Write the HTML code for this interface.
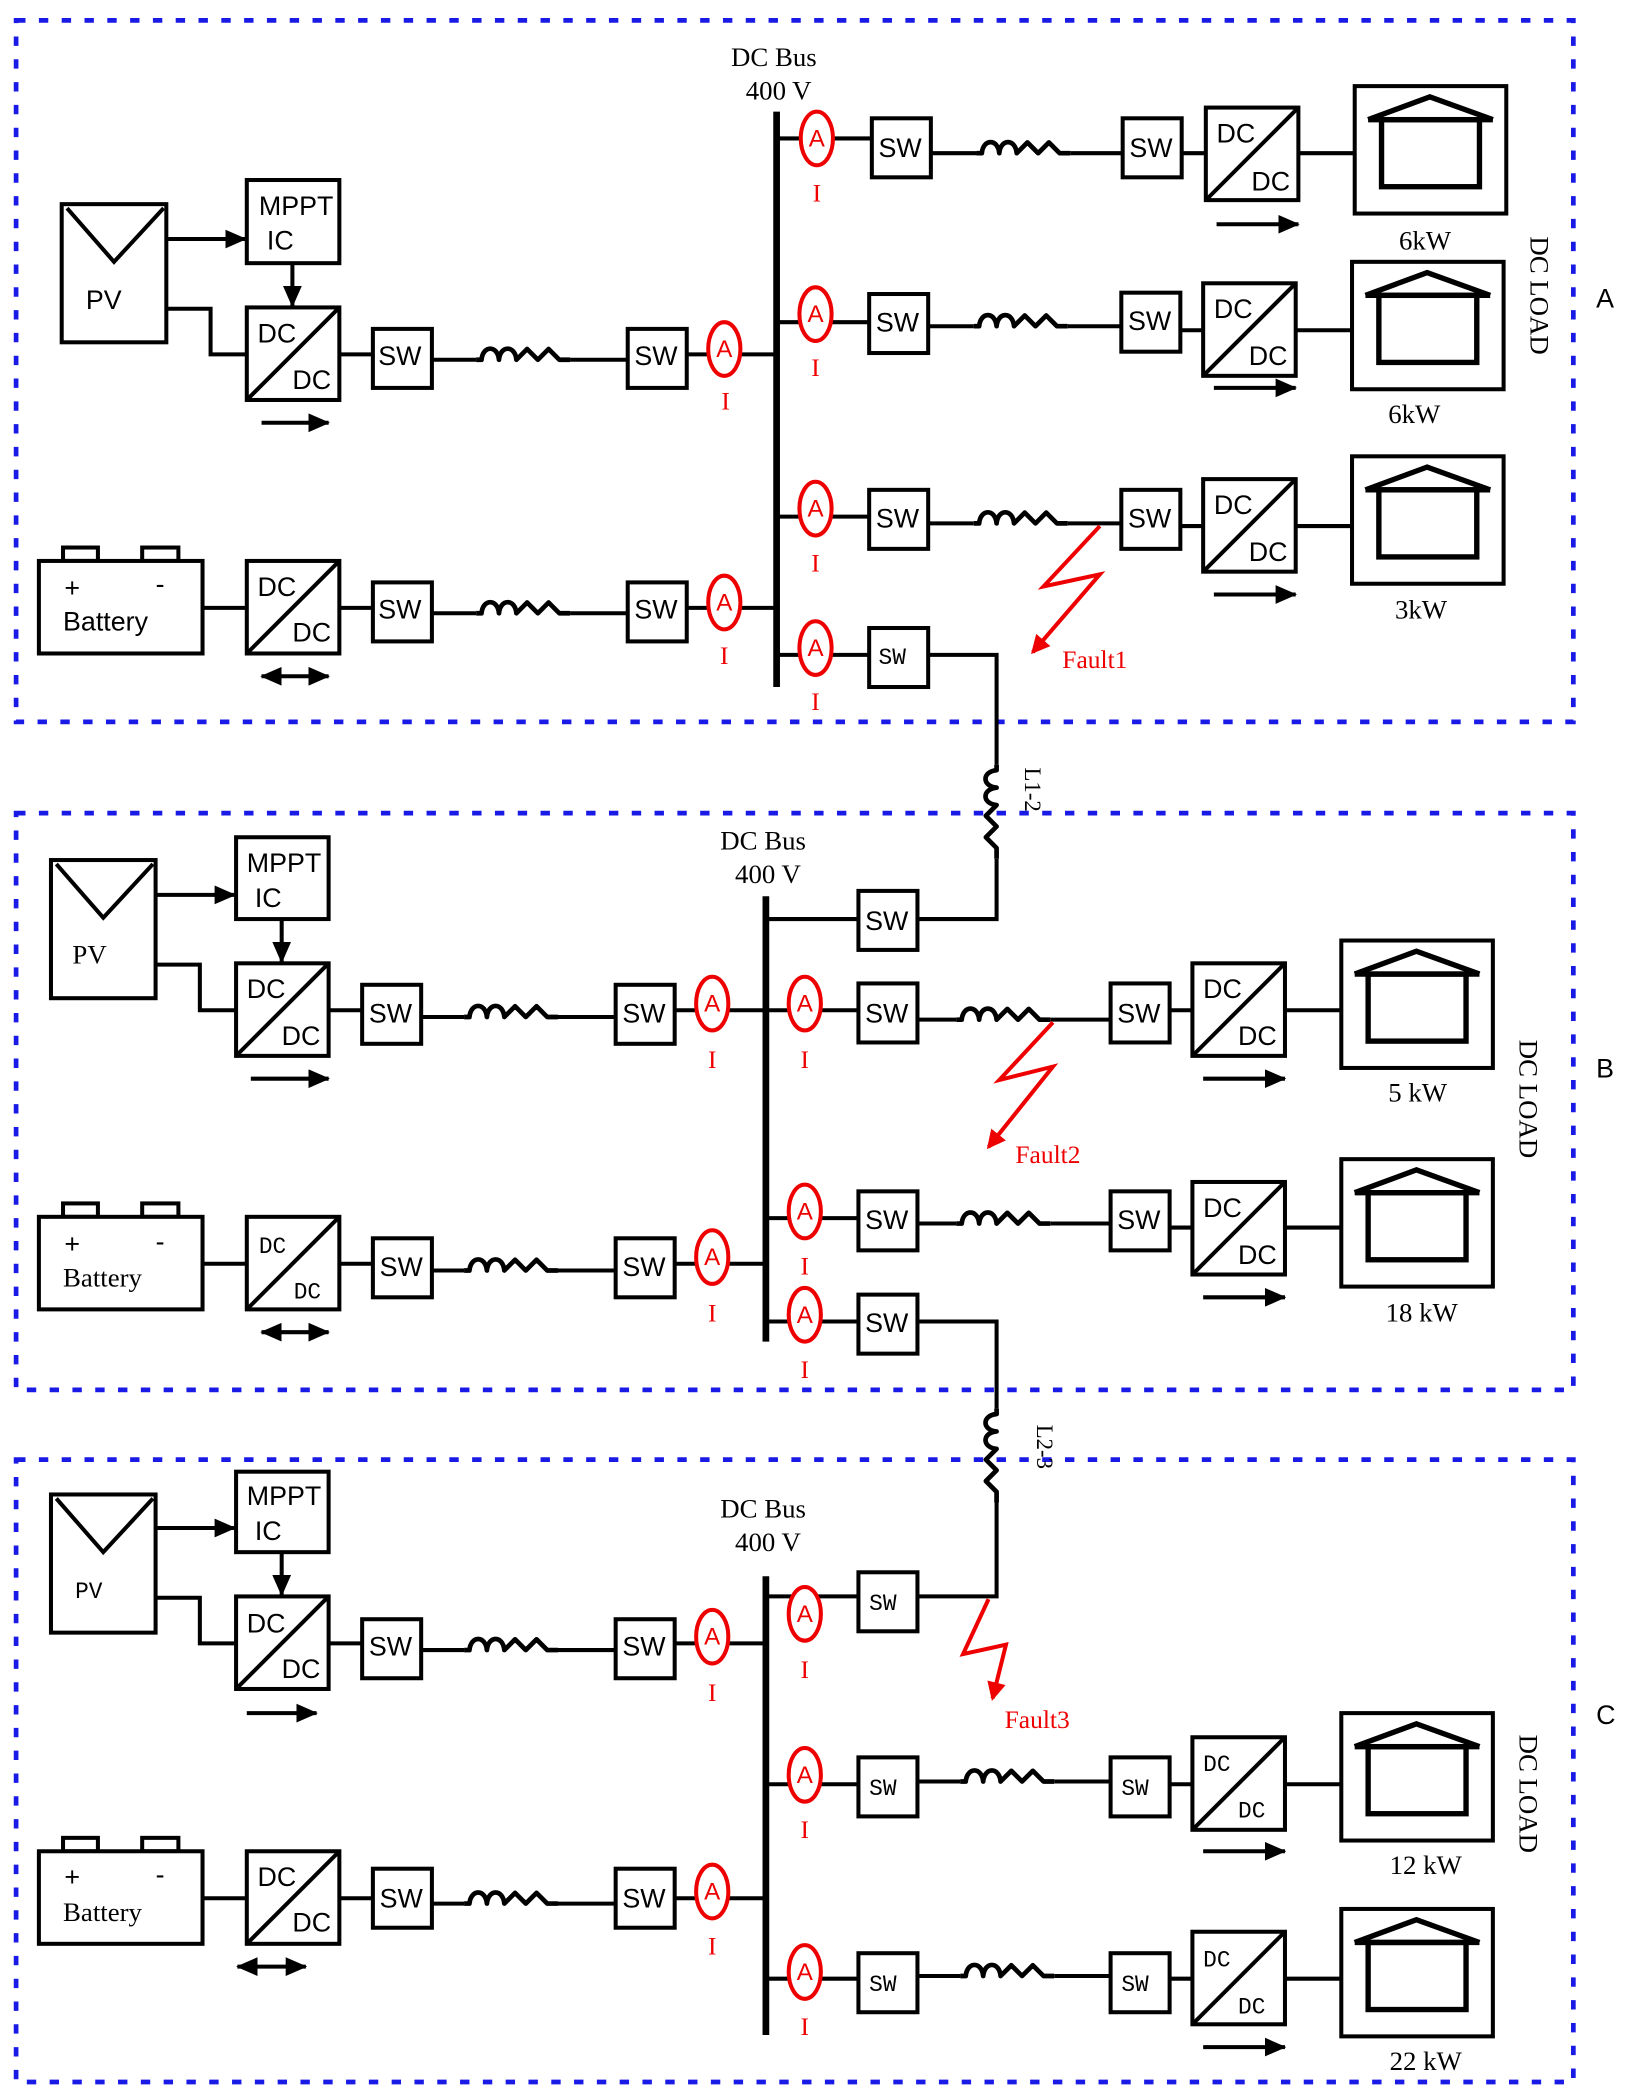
<!DOCTYPE html>
<html><head><meta charset="utf-8"><style>
html,body{margin:0;padding:0;background:#fff}
svg{display:block}
.t{font-family:"Liberation Sans",sans-serif;font-size:20px;fill:#000}
.s{font-family:"Liberation Serif",serif;font-size:20px;fill:#000}
.r{font-family:"Liberation Serif",serif;font-size:19px;fill:#e00}
.a{font-family:"Liberation Sans",sans-serif;font-size:18px;fill:#e00;text-anchor:middle}
</style></head><body>
<svg width="1627" height="2097" viewBox="0 0 1213 1563" xmlns="http://www.w3.org/2000/svg">
<defs>
<marker id="ah" markerWidth="16" markerHeight="14" refX="15" refY="7" orient="auto" markerUnits="userSpaceOnUse"><path d="M0,0 L16,7 L0,14z" fill="#000"/></marker>
<marker id="ah2" markerWidth="16" markerHeight="14" refX="1" refY="7" orient="auto" markerUnits="userSpaceOnUse"><path d="M16,0 L0,7 L16,14z" fill="#000"/></marker>
<marker id="rh" markerWidth="14" markerHeight="14" refX="12" refY="7" orient="auto" markerUnits="userSpaceOnUse"><path d="M0,0 L14,7 L0,14z" fill="#e00"/></marker>
<g id="ind"><path d="M0,0 L4,0 C5,-11 16,-11 17,0 C18,-11 29,-11 30,0 L38,-8 L46,0 L54,-8 L62,0 L70,0" fill="none" stroke="#000" stroke-width="3.5" stroke-linejoin="round"/></g>
<g id="indv"><g transform="rotate(90)"><path d="M0,0 L4,0 C5,11 16,11 17,0 C18,11 29,11 30,0 L38,8 L46,0 L54,8 L62,0 L70,0" fill="none" stroke="#000" stroke-width="3.5" stroke-linejoin="round"/></g></g>
<g id="house"><rect x="0" y="0" width="113" height="95" fill="#fff" stroke="#000" stroke-width="3"/><polyline points="10,25 56,8 103,25" fill="none" stroke="#000" stroke-width="4"/><line x1="10" y1="25" x2="103" y2="25" stroke="#000" stroke-width="4"/><rect x="20" y="25" width="73" height="50" fill="none" stroke="#000" stroke-width="4"/></g>
<g id="sw"><rect x="0" y="0" width="44" height="44" fill="#fff" stroke="#000" stroke-width="3"/></g>
<g id="dcdc"><rect x="0" y="0" width="69" height="69" fill="#fff" stroke="#000" stroke-width="3"/><line x1="0" y1="69" x2="69" y2="0" stroke="#000" stroke-width="3"/></g>
<g id="amm"><ellipse cx="0" cy="0" rx="12" ry="20" fill="#fff" stroke="#e00" stroke-width="3"/></g>
<g id="pv"><rect x="0" y="0" width="78" height="103" fill="#fff" stroke="#000" stroke-width="3"/><polyline points="4,3 39,43 76,3" fill="none" stroke="#000" stroke-width="3"/></g>
<g id="bat"><rect x="18" y="-10" width="26" height="10" fill="#fff" stroke="#000" stroke-width="3"/><rect x="77" y="-10" width="27" height="10" fill="#fff" stroke="#000" stroke-width="3"/><rect x="0" y="0" width="122" height="69" fill="#fff" stroke="#000" stroke-width="3"/></g>
</defs>
<g fill="none" stroke="#1a1ae6" stroke-width="3.5" stroke-dasharray="7,10">
<rect x="12" y="15" width="1161" height="523"/>
<rect x="12" y="606" width="1161" height="430"/>
<rect x="12" y="1088" width="1161" height="464"/>
</g>
<g stroke="#000" stroke-width="3" fill="none">
<line x1="579" y1="83" x2="579" y2="512" stroke-width="5"/>
<line x1="124" y1="178" x2="183" y2="178" marker-end="url(#ah)"/>
<line x1="218" y1="196" x2="218" y2="228" marker-end="url(#ah)"/>
<polyline points="124,230 157,230 157,264 184,264"/>
<line x1="253" y1="264" x2="278" y2="264"/>
<line x1="322" y1="268" x2="355" y2="268"/><line x1="425" y1="268" x2="468" y2="268"/>
<line x1="512" y1="264" x2="579" y2="264"/>
<line x1="195" y1="315" x2="245" y2="315" marker-end="url(#ah)"/>
<line x1="151" y1="453" x2="184" y2="453"/><line x1="253" y1="453" x2="278" y2="453"/>
<line x1="322" y1="457" x2="355" y2="457"/><line x1="425" y1="457" x2="468" y2="457"/>
<line x1="512" y1="453" x2="579" y2="453"/>
<line x1="195" y1="504" x2="245" y2="504" marker-end="url(#ah)" marker-start="url(#ah2)"/>
<line x1="579" y1="103" x2="650" y2="103"/><line x1="694" y1="114" x2="728" y2="114"/><line x1="798" y1="114" x2="837" y2="114"/><line x1="882" y1="114" x2="899" y2="114"/><line x1="968" y1="114" x2="1010" y2="114"/>
<line x1="907" y1="167" x2="968" y2="167" marker-end="url(#ah)"/>
<line x1="579" y1="240" x2="648" y2="240"/><line x1="692" y1="243" x2="726" y2="243"/><line x1="796" y1="243" x2="836" y2="243"/><line x1="880" y1="246" x2="897" y2="246"/><line x1="967" y1="246" x2="1008" y2="246"/>
<line x1="905" y1="289" x2="966" y2="289" marker-end="url(#ah)"/>
<line x1="579" y1="385" x2="648" y2="385"/><line x1="692" y1="390" x2="726" y2="390"/><line x1="796" y1="390" x2="836" y2="390"/><line x1="880" y1="392" x2="897" y2="392"/><line x1="967" y1="392" x2="1008" y2="392"/>
<line x1="905" y1="443" x2="966" y2="443" marker-end="url(#ah)"/>
<line x1="579" y1="488" x2="648" y2="488"/><polyline points="692,488 743,488 743,570"/><polyline points="743,640 743,685 684,685"/>
<line x1="571" y1="668" x2="571" y2="1000" stroke-width="5"/>
<line x1="571" y1="685" x2="640" y2="685"/>
<line x1="116" y1="667" x2="175" y2="667" marker-end="url(#ah)"/>
<line x1="210" y1="685" x2="210" y2="717" marker-end="url(#ah)"/>
<polyline points="116,719 149,719 149,753 176,753"/>
<line x1="245" y1="753" x2="270" y2="753"/><line x1="314" y1="758" x2="346" y2="758"/><line x1="416" y1="758" x2="459" y2="758"/><line x1="503" y1="753" x2="571" y2="753"/>
<line x1="187" y1="804" x2="245" y2="804" marker-end="url(#ah)"/>
<line x1="151" y1="942" x2="184" y2="942"/><line x1="253" y1="942" x2="278" y2="942"/><line x1="322" y1="947" x2="346" y2="947"/><line x1="416" y1="947" x2="459" y2="947"/><line x1="503" y1="942" x2="571" y2="942"/>
<line x1="195" y1="993" x2="245" y2="993" marker-end="url(#ah)" marker-start="url(#ah2)"/>
<line x1="571" y1="753" x2="640" y2="753"/><line x1="684" y1="760" x2="713" y2="760"/><line x1="783" y1="760" x2="828" y2="760"/><line x1="872" y1="753" x2="889" y2="753"/><line x1="958" y1="753" x2="1000" y2="753"/>
<line x1="897" y1="804" x2="958" y2="804" marker-end="url(#ah)"/>
<line x1="571" y1="908" x2="640" y2="908"/><line x1="684" y1="912" x2="713" y2="912"/><line x1="783" y1="912" x2="828" y2="912"/><line x1="872" y1="915" x2="889" y2="915"/><line x1="958" y1="915" x2="1000" y2="915"/>
<line x1="897" y1="967" x2="958" y2="967" marker-end="url(#ah)"/>
<line x1="571" y1="985" x2="640" y2="985"/><polyline points="684,985 743,985 743,1050"/><polyline points="743,1120 743,1190 684,1190"/>
<line x1="571" y1="1175" x2="571" y2="1517" stroke-width="5"/>
<line x1="571" y1="1190" x2="640" y2="1190"/>
<line x1="116" y1="1139" x2="175" y2="1139" marker-end="url(#ah)"/>
<line x1="210" y1="1157" x2="210" y2="1189" marker-end="url(#ah)"/>
<polyline points="116,1191 149,1191 149,1225 176,1225"/>
<line x1="245" y1="1225" x2="270" y2="1225"/><line x1="314" y1="1230" x2="346" y2="1230"/><line x1="416" y1="1230" x2="459" y2="1230"/><line x1="503" y1="1225" x2="571" y2="1225"/>
<line x1="184" y1="1277" x2="236" y2="1277" marker-end="url(#ah)"/>
<line x1="151" y1="1415" x2="184" y2="1415"/><line x1="253" y1="1415" x2="278" y2="1415"/><line x1="322" y1="1419" x2="346" y2="1419"/><line x1="416" y1="1419" x2="459" y2="1419"/><line x1="503" y1="1415" x2="571" y2="1415"/>
<line x1="177" y1="1466" x2="228" y2="1466" marker-end="url(#ah)" marker-start="url(#ah2)"/>
<line x1="571" y1="1330" x2="640" y2="1330"/><line x1="684" y1="1328" x2="716" y2="1328"/><line x1="786" y1="1328" x2="828" y2="1328"/><line x1="872" y1="1330" x2="889" y2="1330"/><line x1="958" y1="1330" x2="1000" y2="1330"/>
<line x1="897" y1="1380" x2="958" y2="1380" marker-end="url(#ah)"/>
<line x1="571" y1="1475" x2="640" y2="1475"/><line x1="684" y1="1473" x2="716" y2="1473"/><line x1="786" y1="1473" x2="828" y2="1473"/><line x1="872" y1="1475" x2="889" y2="1475"/><line x1="958" y1="1475" x2="1000" y2="1475"/>
<line x1="897" y1="1526" x2="958" y2="1526" marker-end="url(#ah)"/>
</g>
<use href="#ind" x="355" y="268"/><use href="#ind" x="355" y="457"/>
<use href="#ind" x="728" y="114"/><use href="#ind" x="726" y="243"/><use href="#ind" x="726" y="390"/>
<use href="#indv" x="743" y="570"/><use href="#indv" x="743" y="1050"/>
<use href="#ind" x="346" y="758"/><use href="#ind" x="346" y="947"/>
<use href="#ind" x="713" y="760"/><use href="#ind" x="713" y="912"/>
<use href="#ind" x="346" y="1230"/><use href="#ind" x="346" y="1419"/>
<use href="#ind" x="716" y="1328"/><use href="#ind" x="716" y="1473"/>
<use href="#pv" x="46" y="152"/><rect x="184" y="134" width="69" height="62" fill="#fff" stroke="#000" stroke-width="3"/>
<use href="#dcdc" x="184" y="229"/><use href="#sw" x="278" y="245"/><use href="#sw" x="468" y="245"/>
<use href="#bat" x="29" y="418"/><use href="#dcdc" x="184" y="418"/><use href="#sw" x="278" y="434"/><use href="#sw" x="468" y="434"/>
<use href="#sw" x="650" y="88"/><use href="#sw" x="837" y="88"/><use href="#dcdc" x="899" y="80"/><use href="#house" x="1010" y="64"/>
<use href="#sw" x="648" y="219"/><use href="#sw" x="836" y="218"/><use href="#dcdc" x="897" y="211"/><use href="#house" x="1008" y="195"/>
<use href="#sw" x="648" y="365"/><use href="#sw" x="836" y="365"/><use href="#dcdc" x="897" y="357"/><use href="#house" x="1008" y="340"/>
<use href="#sw" x="648" y="468"/>
<use href="#pv" x="38" y="641"/><rect x="176" y="624" width="69" height="61" fill="#fff" stroke="#000" stroke-width="3"/>
<use href="#dcdc" x="176" y="718"/><use href="#sw" x="270" y="734"/><use href="#sw" x="459" y="734"/>
<use href="#bat" x="29" y="907"/><use href="#dcdc" x="184" y="907"/><use href="#sw" x="278" y="923"/><use href="#sw" x="459" y="923"/>
<use href="#sw" x="640" y="664"/>
<use href="#sw" x="640" y="733"/><use href="#sw" x="828" y="733"/><use href="#dcdc" x="889" y="718"/><use href="#house" x="1000" y="701"/>
<use href="#sw" x="640" y="888"/><use href="#sw" x="828" y="888"/><use href="#dcdc" x="889" y="881"/><use href="#house" x="1000" y="864"/>
<use href="#sw" x="640" y="965"/>
<use href="#pv" x="38" y="1114"/><rect x="176" y="1097" width="69" height="60" fill="#fff" stroke="#000" stroke-width="3"/>
<use href="#dcdc" x="176" y="1190"/><use href="#sw" x="270" y="1207"/><use href="#sw" x="459" y="1207"/>
<use href="#bat" x="29" y="1380"/><use href="#dcdc" x="184" y="1380"/><use href="#sw" x="278" y="1393"/><use href="#sw" x="459" y="1393"/>
<use href="#sw" x="640" y="1172"/>
<use href="#sw" x="640" y="1310"/><use href="#sw" x="828" y="1310"/><use href="#dcdc" x="889" y="1295"/><use href="#house" x="1000" y="1277"/>
<use href="#sw" x="640" y="1456"/><use href="#sw" x="828" y="1456"/><use href="#dcdc" x="889" y="1440"/><use href="#house" x="1000" y="1423"/>
<use href="#amm" x="540" y="260"/><use href="#amm" x="540" y="449"/>
<use href="#amm" x="609" y="103"/><use href="#amm" x="608" y="234"/><use href="#amm" x="608" y="379"/><use href="#amm" x="608" y="483"/>
<use href="#amm" x="531" y="748"/><use href="#amm" x="531" y="937"/><use href="#amm" x="600" y="748"/><use href="#amm" x="600" y="903"/><use href="#amm" x="600" y="980"/>
<use href="#amm" x="531" y="1220"/><use href="#amm" x="531" y="1410"/><use href="#amm" x="600" y="1203"/><use href="#amm" x="600" y="1323"/><use href="#amm" x="600" y="1470"/>
<g class="a">
<text x="540" y="266">A</text><text x="540" y="455">A</text><text x="609" y="109">A</text><text x="608" y="240">A</text><text x="608" y="385">A</text><text x="608" y="489">A</text>
<text x="531" y="754">A</text><text x="531" y="943">A</text><text x="600" y="754">A</text><text x="600" y="909">A</text><text x="600" y="986">A</text>
<text x="531" y="1226">A</text><text x="531" y="1416">A</text><text x="600" y="1209">A</text><text x="600" y="1329">A</text><text x="600" y="1476">A</text>
</g>
<g class="r" text-anchor="middle">
<text x="541" y="305">I</text><text x="540" y="495">I</text><text x="609" y="150">I</text><text x="608" y="280">I</text><text x="608" y="426">I</text><text x="608" y="529">I</text>
<text x="531" y="796">I</text><text x="531" y="985">I</text><text x="600" y="796">I</text><text x="600" y="950">I</text><text x="600" y="1027">I</text>
<text x="531" y="1268">I</text><text x="531" y="1457">I</text><text x="600" y="1251">I</text><text x="600" y="1370">I</text><text x="600" y="1517">I</text>
</g>
<g fill="none" stroke="#e00" stroke-width="3">
<polyline points="820,392 778,437 820,428 770,486" marker-end="url(#rh)"/>
<polyline points="785,762 745,805 785,795 737,855" marker-end="url(#rh)"/>
<polyline points="737,1192 718,1233 750,1226 740,1266" marker-end="url(#rh)"/>
</g>
<text class="r" x="792" y="498">Fault1</text><text class="r" x="757" y="867">Fault2</text><text class="r" x="749" y="1288">Fault3</text>
<g class="t">
<text x="193" y="160">MPPT</text><text x="199" y="186">IC</text><text x="64" y="230">PV</text>
<text x="192" y="255">DC</text><text x="218" y="290">DC</text>
<text x="282" y="272">SW</text><text x="473" y="272">SW</text>
<text x="48" y="445">+</text><text x="116" y="442">-</text><text x="47" y="470">Battery</text>
<text x="192" y="444">DC</text><text x="218" y="478">DC</text>
<text x="282" y="461">SW</text><text x="473" y="461">SW</text>
<text x="655" y="117">SW</text><text x="842" y="117">SW</text><text x="907" y="106">DC</text><text x="933" y="142">DC</text>
<text x="653" y="247">SW</text><text x="841" y="246">SW</text><text x="905" y="237">DC</text><text x="931" y="272">DC</text>
<text x="653" y="393">SW</text><text x="841" y="393">SW</text><text x="905" y="383">DC</text><text x="931" y="418">DC</text>
<text x="184" y="650">MPPT</text><text x="190" y="676">IC</text>
<text x="184" y="744">DC</text><text x="210" y="779">DC</text>
<text x="275" y="762">SW</text><text x="464" y="762">SW</text>
<text x="645" y="693">SW</text>
<text x="48" y="934">+</text><text x="116" y="932">-</text>
<text x="283" y="951">SW</text><text x="464" y="951">SW</text>
<text x="645" y="762">SW</text><text x="833" y="762">SW</text><text x="897" y="744">DC</text><text x="923" y="779">DC</text>
<text x="645" y="916">SW</text><text x="833" y="916">SW</text><text x="897" y="907">DC</text><text x="923" y="942">DC</text>
<text x="645" y="993">SW</text>
<text x="184" y="1122">MPPT</text><text x="190" y="1148">IC</text>
<text x="184" y="1217">DC</text><text x="210" y="1251">DC</text>
<text x="275" y="1234">SW</text><text x="464" y="1234">SW</text>
<text x="48" y="1406">+</text><text x="116" y="1404">-</text>
<text x="192" y="1406">DC</text><text x="218" y="1440">DC</text>
<text x="283" y="1422">SW</text><text x="464" y="1422">SW</text>
</g>
<g style="font-family:'Liberation Mono',monospace;font-size:17px">
<text x="655" y="495">SW</text><text x="193" y="934">DC</text><text x="219" y="968">DC</text>
<text x="648" y="1200">SW</text><text x="648" y="1338">SW</text><text x="836" y="1338">SW</text><text x="897" y="1320">DC</text><text x="923" y="1355">DC</text>
<text x="648" y="1484">SW</text><text x="836" y="1484">SW</text><text x="897" y="1466">DC</text><text x="923" y="1501">DC</text>
<text x="56" y="1191">PV</text>
</g>
<g class="s">
<text x="545" y="49">DC Bus</text><text x="556" y="74">400 V</text>
<text x="537" y="633">DC Bus</text><text x="548" y="658">400 V</text>
<text x="537" y="1131">DC Bus</text><text x="548" y="1156">400 V</text>
<text x="1043" y="186">6kW</text><text x="1035" y="315">6kW</text><text x="1040" y="461">3kW</text>
<text x="1035" y="821">5 kW</text><text x="1033" y="985">18 kW</text>
<text x="1036" y="1397">12 kW</text><text x="1036" y="1543">22 kW</text>
<text x="54" y="718">PV</text>
<text x="47" y="959">Battery</text><text x="47" y="1432">Battery</text>
<text transform="translate(1141,176) rotate(90)">DC LOAD</text>
<text transform="translate(1133,775) rotate(90)">DC LOAD</text>
<text transform="translate(1133,1293) rotate(90)">DC LOAD</text>
<text transform="translate(764,572) rotate(90)" font-size="17">L1-2</text>
<text transform="translate(773,1062) rotate(90)" font-size="17">L2-3</text>
</g>
<g class="t" font-size="17">
<text x="1190" y="229">A</text><text x="1190" y="803">B</text><text x="1190" y="1285">C</text>
</g>
</svg>
</body></html>
